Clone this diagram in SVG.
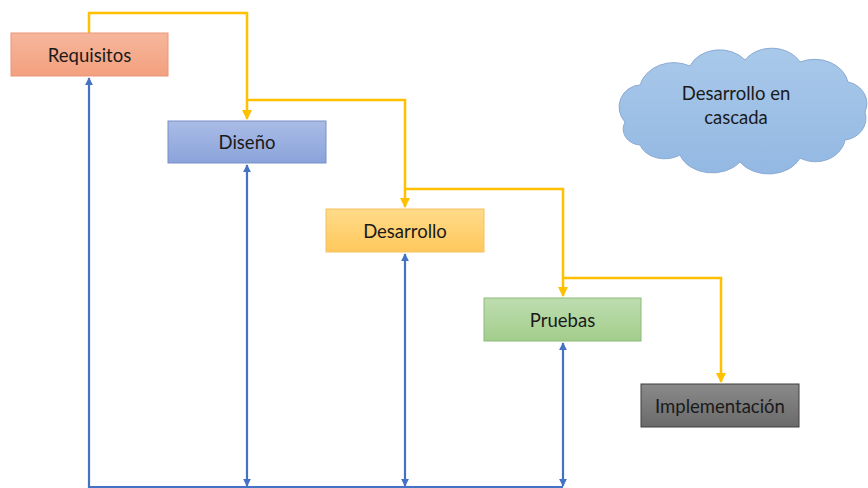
<svg xmlns="http://www.w3.org/2000/svg" width="868" height="488" viewBox="0 0 868 488">
<style>
.lbl{font-family:"Lato","Open Sans","Liberation Sans",sans-serif;font-size:18.5px;fill:#1a1a1a;text-anchor:middle;dominant-baseline:central}
.y{fill:none;stroke:#FFC000;stroke-width:2.5}
.b{fill:none;stroke:#4472C4;stroke-width:2.2}
</style>
<defs>
<marker id="ay" viewBox="0 0 10 10" refX="9" refY="5" markerWidth="4" markerHeight="4" orient="auto" markerUnits="strokeWidth"><path d="M0,0 L10,5 L0,10 z" fill="#FFC000"/></marker>
<marker id="ab" viewBox="0 0 10 10" refX="9" refY="5" markerWidth="3.6" markerHeight="3.6" orient="auto-start-reverse" markerUnits="strokeWidth"><path d="M0,0 L10,5 L0,10 z" fill="#4472C4"/></marker>
<linearGradient id="gR" x1="0" y1="0" x2="0" y2="1"><stop offset="0" stop-color="#F6B69C"/><stop offset="1" stop-color="#F3A07E"/></linearGradient>
<linearGradient id="gD" x1="0" y1="0" x2="0" y2="1"><stop offset="0" stop-color="#AABCE6"/><stop offset="1" stop-color="#8AA3DA"/></linearGradient>
<linearGradient id="gS" x1="0" y1="0" x2="0" y2="1"><stop offset="0" stop-color="#FFDB8A"/><stop offset="1" stop-color="#FFC85C"/></linearGradient>
<linearGradient id="gP" x1="0" y1="0" x2="0" y2="1"><stop offset="0" stop-color="#BEDDB0"/><stop offset="1" stop-color="#A3CD8C"/></linearGradient>
<linearGradient id="gI" x1="0" y1="0" x2="0" y2="1"><stop offset="0" stop-color="#8A8A8A"/><stop offset="1" stop-color="#6A6A6A"/></linearGradient>
<linearGradient id="gC" x1="0" y1="0" x2="0" y2="1"><stop offset="0" stop-color="#A9C9EA"/><stop offset="1" stop-color="#93B8E2"/></linearGradient>
</defs>

<g id="connectors">
<path class="y" d="M89,33 V13 H247 V119" marker-end="url(#ay)"/>
<path class="y" d="M247,100 H405 V207" marker-end="url(#ay)"/>
<path class="y" d="M405,189 H563 V296" marker-end="url(#ay)"/>
<path class="y" d="M563,278 H721 V382" marker-end="url(#ay)"/>
<path class="b" d="M563,487 H89 V78" marker-end="url(#ab)"/>
<path class="b" d="M247,486 V165" marker-start="url(#ab)" marker-end="url(#ab)"/>
<path class="b" d="M405,486 V254" marker-start="url(#ab)" marker-end="url(#ab)"/>
<path class="b" d="M563,486 V343" marker-start="url(#ab)" marker-end="url(#ab)"/>
</g>

<g id="requisitos">
<rect x="11" y="33" width="157" height="43" fill="url(#gR)" stroke="#E8967A" stroke-width="1"/>
<text class="lbl" x="89.5" y="55">Requisitos</text>
</g>
<g id="diseno">
<rect x="168" y="121" width="158" height="42" fill="url(#gD)" stroke="#7890C8" stroke-width="1"/>
<text class="lbl" x="247" y="142">Diseño</text>
</g>
<g id="desarrollo">
<rect x="326" y="209" width="158" height="43" fill="url(#gS)" stroke="#F5C060" stroke-width="1"/>
<text class="lbl" x="405" y="231">Desarrollo</text>
</g>
<g id="pruebas">
<rect x="484" y="298" width="157" height="43" fill="url(#gP)" stroke="#8DBB78" stroke-width="1"/>
<text class="lbl" x="562.5" y="320">Pruebas</text>
</g>
<g id="implementacion">
<rect x="641" y="384" width="158" height="43" fill="url(#gI)" stroke="#3F3F3F" stroke-width="1"/>
<text class="lbl" x="720" y="406">Implementación</text>
</g>
<g id="cloud">
<path d="M625,122 A22,22 0 0 1 640,85 A35,30 0 0 1 690,66 A32,26 0 0 1 745,60 A32,26 0 0 1 800,62 A34,28 0 0 1 848,82 A24,22 0 0 1 865,112 A24,22 0 0 1 845,140 A30,26 0 0 1 800,158 A34,26 0 0 1 740,162 A34,26 0 0 1 680,155 A26,20 0 0 1 640,145 A18,16 0 0 1 625,122 Z" fill="url(#gC)" stroke="#8AAAD4" stroke-width="1"/>
<text class="lbl" x="736" y="93">Desarrollo en</text>
<text class="lbl" x="736" y="117">cascada</text>
</g>
</svg>
